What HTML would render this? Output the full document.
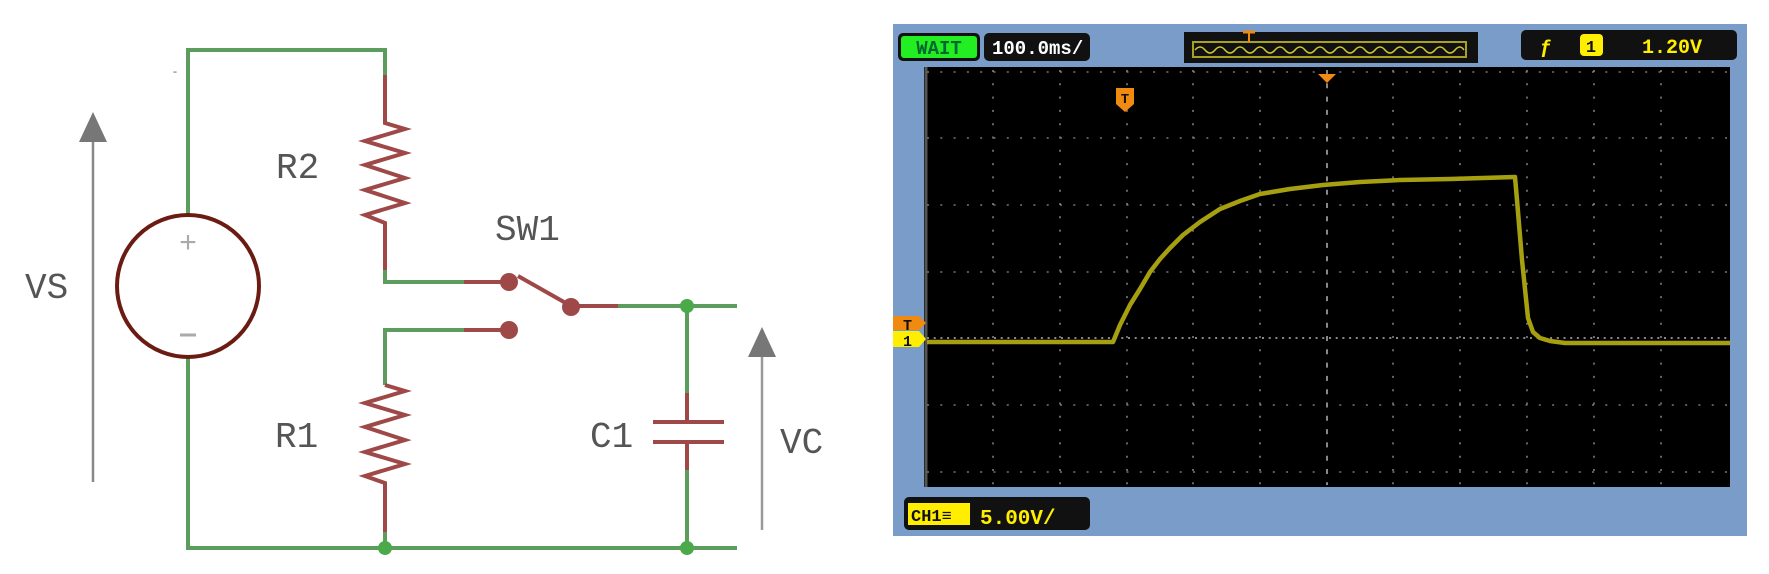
<!DOCTYPE html>
<html><head><meta charset="utf-8"><style>
html,body{margin:0;padding:0;background:#fff;width:1769px;height:574px;overflow:hidden}
svg{display:block}
.lbl{font-family:"Liberation Mono",monospace;font-size:36px;fill:#555}
.g{stroke:#5c9c5c;stroke-width:4;fill:none}
.r{stroke:#9e4848;stroke-width:4;fill:none}
.m{font-family:"Liberation Mono",monospace;font-weight:bold}
</style></head><body>
<svg width="1769" height="574" viewBox="0 0 1769 574" xmlns="http://www.w3.org/2000/svg">
<polyline class="g" points="188,215 188,50 385,50 385,75"/>
<polyline class="r" points="385,75 385,123 405,129 365,141 405,153 365,165 405,178 365,190 405,203 365,215 385,223 385,270"/>
<polyline class="g" points="385,270 385,282 464,282"/>
<line class="r" x1="464" y1="282" x2="509" y2="282"/>
<circle cx="509" cy="282" r="9" fill="#9e4848"/>
<line class="r" x1="518" y1="276" x2="571" y2="306"/>
<circle cx="571" cy="307" r="9" fill="#9e4848"/>
<line class="r" x1="571" y1="306" x2="618" y2="306"/>
<line class="g" x1="618" y1="306" x2="737" y2="306"/>
<polyline class="g" points="464,330 385,330 385,385"/>
<line class="r" x1="464" y1="330" x2="509" y2="330"/>
<circle cx="509" cy="330" r="9" fill="#9e4848"/>
<polyline class="r" points="385,385 405,391 365,403 405,415 365,427 405,440 365,452 405,464 365,476 385,483 385,532"/>
<line class="g" x1="385" y1="532" x2="385" y2="548"/>
<polyline class="g" points="188,357 188,548 737,548"/>
<circle cx="385" cy="548" r="7" fill="#4aaa4a"/>
<line class="g" x1="687" y1="306" x2="687" y2="393"/>
<line class="r" x1="687" y1="393" x2="687" y2="422"/>
<line class="r" x1="653" y1="422" x2="724" y2="422"/>
<line class="r" x1="653" y1="442" x2="724" y2="442"/>
<line class="r" x1="687" y1="442" x2="687" y2="470"/>
<line class="g" x1="687" y1="470" x2="687" y2="548"/>
<circle cx="687" cy="306" r="7" fill="#4aaa4a"/>
<circle cx="687" cy="548" r="7" fill="#4aaa4a"/>
<circle cx="188" cy="286" r="71" fill="none" stroke="#6b1c12" stroke-width="4"/>
<text x="188" y="252" text-anchor="middle" font-family="Liberation Sans,sans-serif" font-size="30" fill="#aaa">+</text>
<line x1="180" y1="335" x2="196" y2="335" stroke="#aaa" stroke-width="3"/>
<line x1="93" y1="482" x2="93" y2="140" stroke="#888" stroke-width="2.5"/>
<polygon points="93,112 79,142 107,142" fill="#777"/>
<line x1="762" y1="530" x2="762" y2="355" stroke="#999" stroke-width="2.5"/>
<polygon points="762,327 748,357 776,357" fill="#777"/>
<text x="173" y="75" font-size="12" fill="#555">-</text>
<text class="lbl" x="25" y="298">VS</text>
<text class="lbl" x="276" y="178">R2</text>
<text class="lbl" x="495" y="240">SW1</text>
<text class="lbl" x="275" y="447">R1</text>
<text class="lbl" x="590" y="447">C1</text>
<text class="lbl" x="780" y="453">VC</text>

<rect x="893" y="24" width="854" height="512" fill="#7a9cc8"/>
<rect x="898" y="33" width="82" height="28" rx="5" fill="#111"/>
<rect x="901" y="36" width="76" height="22" rx="3" fill="#22ee22"/>
<text class="m" x="939" y="54" font-size="19" text-anchor="middle" fill="#063">WAIT</text>
<rect x="984" y="33" width="106" height="28" rx="5" fill="#111"/>
<text class="m" x="992" y="54" font-size="19" fill="#fff">100.0ms/</text>
<rect x="1184" y="32" width="294" height="31" fill="#111"/>
<rect x="1193" y="42" width="273" height="15" fill="none" stroke="#a8a020" stroke-width="2"/>
<path d="M1195 50 q5 -6 10 0 t10 0 t10 0 t10 0 t10 0 t10 0 t10 0 t10 0 t10 0 t10 0 t10 0 t10 0 t10 0 t10 0 t10 0 t10 0 t10 0 t10 0 t10 0 t10 0 t10 0 t10 0 t10 0 t10 0 t10 0 t10 0 t9 0" fill="none" stroke="#d0c830" stroke-width="1.5"/>
<line x1="1249" y1="31" x2="1249" y2="42" stroke="#f08a10" stroke-width="2"/>
<line x1="1243" y1="32" x2="1255" y2="32" stroke="#f08a10" stroke-width="3"/>
<rect x="1521" y="30" width="216" height="30" rx="5" fill="#111"/>
<text class="m" x="1540" y="53" font-size="20" fill="#ffee00">ƒ</text>
<rect x="1580" y="34" width="23" height="22" rx="4" fill="#ffee00"/>
<text class="m" x="1591" y="52" font-size="17" text-anchor="middle" fill="#111">1</text>
<text class="m" x="1642" y="53" font-size="20" fill="#ffee00">1.20V</text>
<rect x="924" y="67" width="806" height="420" fill="#000"/>
<line x1="926" y1="67" x2="926" y2="487" stroke="#555" stroke-width="3"/>
<g stroke="#777" stroke-width="1.5" stroke-dasharray="2 11.3">
<line x1="927" y1="138" x2="1730" y2="138"/>
<line x1="927" y1="205" x2="1730" y2="205"/>
<line x1="927" y1="272" x2="1730" y2="272"/>
<line x1="927" y1="405" x2="1730" y2="405"/>
<line x1="927" y1="472" x2="1730" y2="472"/>
<line x1="927" y1="72" x2="1730" y2="72"/>
</g>
<g stroke="#888" stroke-width="1.5" stroke-dasharray="2 11.3">
<line x1="993" y1="70" x2="993" y2="485"/>
<line x1="1060" y1="70" x2="1060" y2="485"/>
<line x1="1127" y1="70" x2="1127" y2="485"/>
<line x1="1193" y1="70" x2="1193" y2="485"/>
<line x1="1260" y1="70" x2="1260" y2="485"/>
<line x1="1393" y1="70" x2="1393" y2="485"/>
<line x1="1460" y1="70" x2="1460" y2="485"/>
<line x1="1527" y1="70" x2="1527" y2="485"/>
<line x1="1594" y1="70" x2="1594" y2="485"/>
<line x1="1661" y1="70" x2="1661" y2="485"/>
</g>
<line x1="1327" y1="70" x2="1327" y2="485" stroke="#888" stroke-width="2" stroke-dasharray="5 8.3"/>
<line x1="927" y1="338" x2="1730" y2="338" stroke="#888" stroke-width="2" stroke-dasharray="2 4.7"/>
<polyline points="927,342 1113,342 1120,325 1130,305 1140,289 1150,272 1160,259 1170,248 1183,235 1200,222 1220,209 1240,201 1260,194 1290,189 1323,185 1360,182 1400,180 1450,179 1515,177 1517,200 1522,260 1528,318 1533,332 1540,338 1550,341 1565,343 1730,343" fill="none" stroke="#a6a010" stroke-width="4.5" stroke-linejoin="round"/>
<polygon points="1318,74 1336,74 1327,83" fill="#f08a10"/>
<path d="M1116,88 h18 v16 l-9,8 l-9,-8 z" fill="#f08a10"/>
<text class="m" x="1125" y="103" font-size="14" text-anchor="middle" fill="#111">T</text>
<path d="M893,316 h26 l7,7 l-7,7 h-26 z" fill="#f08a10"/>
<text class="m" x="903" y="330" font-size="15" fill="#111">T</text>
<path d="M893,331 h26 l7,8 l-7,8 h-26 z" fill="#ffee00"/>
<text class="m" x="903" y="346" font-size="15" fill="#111">1</text>
<rect x="904" y="497" width="186" height="33" rx="5" fill="#111"/>
<rect x="908" y="503" width="62" height="22" fill="#ffee00"/>
<text class="m" x="911" y="521" font-size="17" fill="#111">CH1≡</text>
<text class="m" x="980" y="524" font-size="21" fill="#ffee00">5.00V/</text>
</svg>
</body></html>
